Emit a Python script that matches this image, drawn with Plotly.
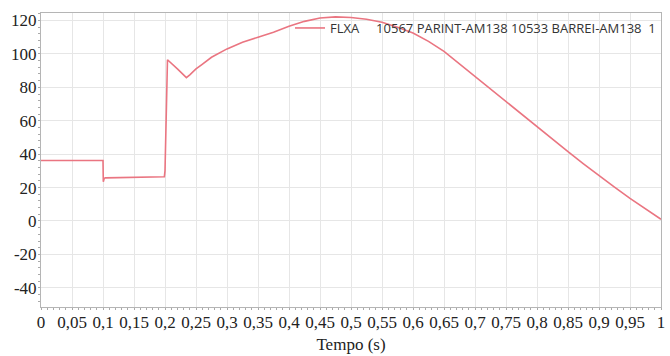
import plotly.graph_objects as go

# Data
tempo = [0, 0.1, 0.1005, 0.102, 0.104, 0.15, 0.199, 0.2, 0.2008, 0.2015, 0.204,
         0.22, 0.2345, 0.24, 0.25, 0.26, 0.275, 0.3, 0.325, 0.35, 0.375, 0.4,
         0.425, 0.45, 0.475, 0.5, 0.525, 0.55, 0.575, 0.6, 0.625, 0.65, 0.675,
         0.7, 0.725, 0.75, 0.775, 0.8, 0.825, 0.85, 0.875, 0.9, 0.925, 0.95,
         0.975, 1.0]
flxa = [36.2, 36.2, 23.5, 25.5, 25.8, 26.0, 26.5, 30, 45, 60, 96.5,
        91, 85.8, 87.5, 91, 93.8, 98, 103, 107, 110, 113, 116.5,
        119.5, 121.5, 122.2, 121.8, 120.8, 119, 116, 112.5, 107.5, 101.5, 94,
        86.5, 78.7, 71, 63.5, 56, 48.7, 41.5, 34.2, 27, 20.2, 13.5,
        7, 1]

series_name = "FLXA\u00a0\u00a0\u00a0\u00a0\u00a010567 PARINT-AM138 10533 BARREI-AM138\u00a0\u00a01"

x_ticks = [round(i * 0.05, 2) for i in range(21)]
x_labels = [("%g" % v).replace(".", ",") for v in x_ticks]
y_ticks = [-40, -20, 0, 20, 40, 60, 80, 100, 120]
y_labels = [str(v) for v in y_ticks]

fig = go.Figure()
fig.add_trace(go.Scatter(
    x=tempo, y=flxa, mode="lines", name=series_name,
    line=dict(color="#ea7581", width=1.6),
    showlegend=True,
))

serif = "Liberation Serif"
fig.update_layout(
    width=670, height=356,
    margin=dict(l=41, r=5, t=13, b=49),
    paper_bgcolor="white", plot_bgcolor="white",
    showlegend=True,
    legend=dict(x=1, xanchor="right", y=1, yanchor="top",
                bgcolor="rgba(0,0,0,0)",
                font=dict(family="Open Sans", size=13, color="#333"),
                itemwidth=30, tracegroupgap=0),
    font=dict(family=serif, size=17, color="#222"),
)
fig.update_xaxes(
    range=[0, 1], tickvals=x_ticks, ticktext=x_labels,
    showgrid=True, gridcolor="#e6e6e6", gridwidth=1,
    showline=True, linecolor="#b5b5b5", linewidth=1, mirror=True,
    ticks="", zeroline=False,
    minor=dict(dtick=0.01, ticks="outside", ticklen=2, tickcolor="#aaaaaa", showgrid=False),
    tickfont=dict(family=serif, size=17, color="#222"),
    title=dict(text="Tempo (s)", font=dict(family=serif, size=17, color="#222"), standoff=6),
)
fig.update_yaxes(
    range=[-51.5, 124.5], tickvals=y_ticks, ticktext=y_labels,
    showgrid=True, gridcolor="#e6e6e6", gridwidth=1,
    showline=True, linecolor="#b5b5b5", linewidth=1, mirror=True,
    ticks="", zeroline=False,
    minor=dict(dtick=4, ticks="outside", ticklen=2, tickcolor="#aaaaaa", showgrid=False),
    tickfont=dict(family=serif, size=17, color="#222"),
)

fig.write_html("out.html")
